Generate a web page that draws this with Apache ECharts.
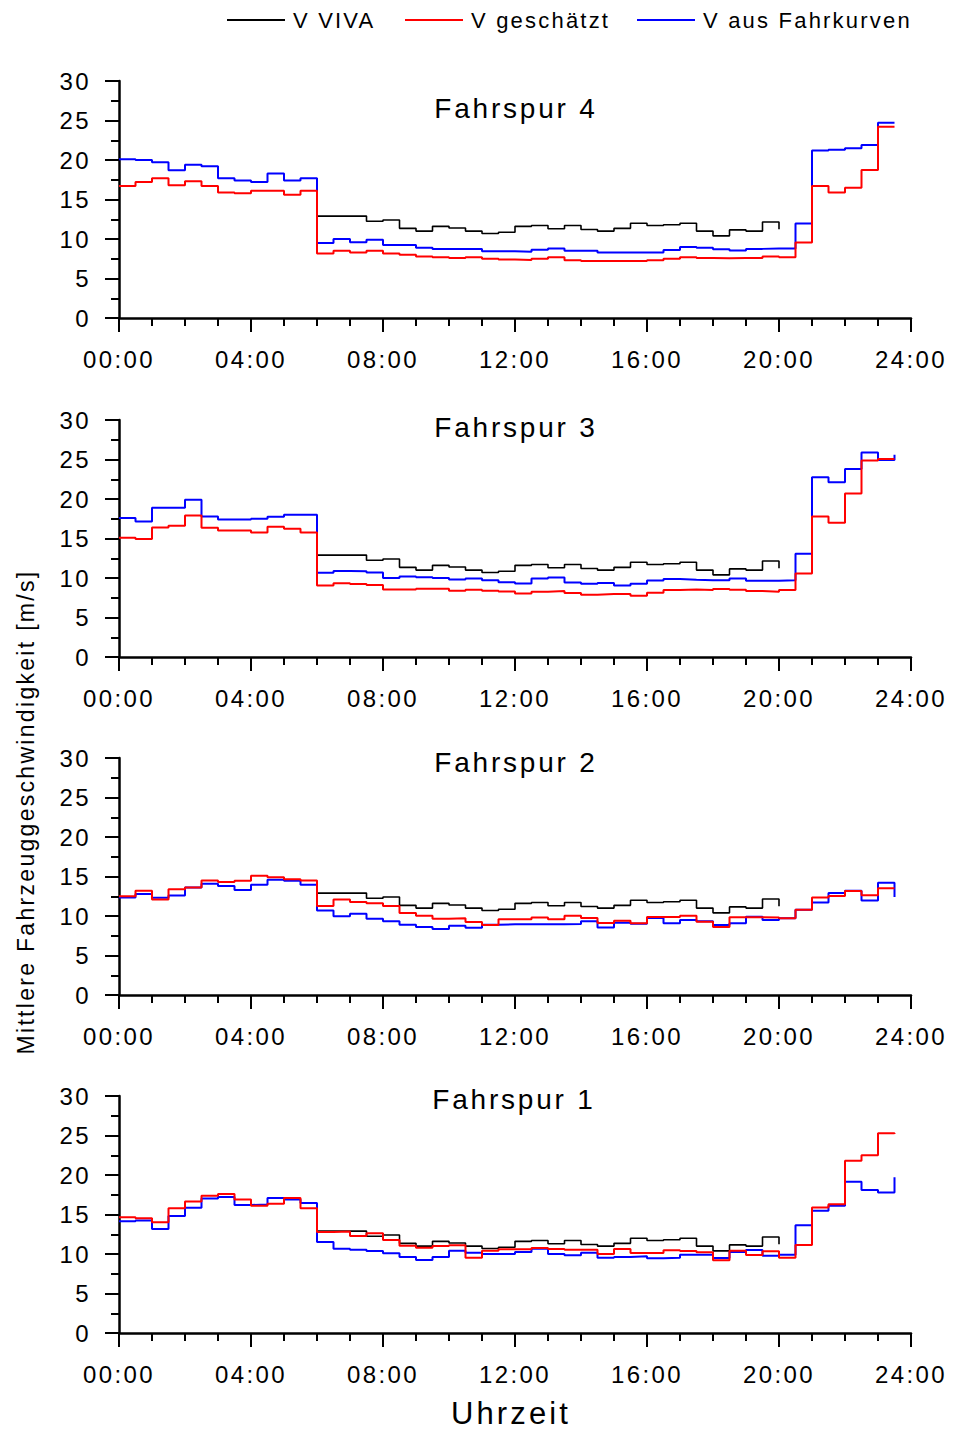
<!DOCTYPE html>
<html>
<head>
<meta charset="utf-8">
<script src="https://cdn.jsdelivr.net/npm/echarts@6/dist/echarts.min.js"></script>
<style>
html,body{margin:0;padding:0;background:#fff}
#chart{width:953px;height:1430px}
#chart text{letter-spacing:0.1em}
</style>
</head>
<body>
<div id="chart"></div>
<script>
// Uhrzeit in Stunden (Halbstundenwerte)
const hours = [0,0.5,1,1.5,2,2.5,3,3.5,4,4.5,5,5.5,6,6.5,7,7.5,8,8.5,9,9.5,10,10.5,11,11.5,
               12,12.5,13,13.5,14,14.5,15,15.5,16,16.5,17,17.5,18,18.5,19,19.5,20,20.5,21,21.5,22,22.5,23,23.5];
const laneNames = ['Fahrspur 4','Fahrspur 3','Fahrspur 2','Fahrspur 1'];
const seriesNames = ['V VIVA','V geschätzt','V aus Fahrkurven'];

// V VIVA (gleich für alle Fahrspuren, 06:00 - 20:00)
const vViva = [null,null,null,null,null,null,null,null,null,null,null,null,
  12.9,12.9,12.9,12.25,12.4,11.35,11.0,11.6,11.4,11.0,10.7,10.85,
  11.6,11.7,11.3,11.7,11.2,11.0,11.35,12.0,11.7,11.8,12.0,11.0,10.4,11.15,11.0,12.15,11.25,
  null,null,null,null,null,null,null];

// Fahrspur 4
const vGeschaetzt4 = [16.7,17.2,17.7,16.8,17.3,16.7,15.9,15.8,16.1,16.1,15.6,16.1,
  8.15,8.5,8.3,8.5,8.15,8.0,7.8,7.7,7.6,7.7,7.5,7.4,
  7.35,7.5,7.7,7.3,7.2,7.2,7.2,7.2,7.3,7.5,7.7,7.6,7.55,7.6,7.6,7.8,7.7,9.55,16.7,15.9,16.5,18.75,24.2,24.2];
const vFahrkurven4 = [20.1,20.0,19.7,18.7,19.4,19.2,17.7,17.4,17.2,18.3,17.4,17.7,
  9.5,10.0,9.6,9.9,9.25,9.25,8.9,8.75,8.75,8.75,8.45,8.45,
  8.4,8.65,8.8,8.5,8.5,8.3,8.3,8.3,8.3,8.6,9.0,8.9,8.7,8.55,8.75,8.8,8.8,11.95,21.2,21.3,21.5,21.9,24.7,24.7];

// Fahrspur 3
const vGeschaetzt3 = [15.1,14.95,16.4,16.6,17.9,16.35,16.0,16.0,15.75,16.5,16.25,15.75,
  9.05,9.35,9.25,9.1,8.55,8.55,8.65,8.65,8.4,8.5,8.4,8.3,
  8.05,8.26,8.34,8.09,7.88,7.96,7.96,7.75,8.13,8.47,8.55,8.47,8.6,8.51,8.34,8.26,8.47,10.58,17.78,16.98,20.7,24.86,25.07,25.07];
const vFahrkurven3 = [17.6,17.15,18.9,18.9,19.9,17.8,17.4,17.4,17.5,17.75,18.0,18.0,
  10.65,10.9,10.85,10.7,10.0,10.2,10.1,10.0,9.8,9.95,9.7,9.45,
  9.31,9.95,10.07,9.44,9.27,9.36,9.06,9.27,9.69,9.86,9.78,9.73,9.73,9.95,9.65,9.65,9.73,13.06,22.76,22.12,23.8,25.9,24.95,25.6];

// Fahrspur 2
const vGeschaetzt2 = [12.5,13.2,12.1,13.4,13.6,14.5,14.3,14.45,15.1,14.9,14.66,14.5,
  11.27,12.08,11.78,11.6,11.27,10.38,10.04,9.66,9.7,9.24,8.86,9.58,
  9.58,9.8,9.58,10.04,9.75,9.1,9.4,9.07,9.87,9.87,10.04,9.28,8.6,9.83,9.83,9.8,9.7,10.8,12.33,12.54,13.18,12.63,13.5,13.5];
const vFahrkurven2 = [12.33,12.8,12.3,12.6,13.6,14.07,13.8,13.3,13.94,14.6,14.45,13.94,
  10.7,9.96,10.3,9.66,9.32,8.9,8.6,8.35,8.77,8.5,8.9,8.94,
  8.94,8.94,8.94,8.98,9.32,8.56,9.15,9.03,9.75,9.07,9.5,9.32,8.86,9.07,9.9,9.5,9.7,10.8,11.7,12.9,13.2,11.95,14.2,12.4];

// Fahrspur 1
const vGeschaetzt1 = [14.66,14.53,14.03,15.8,16.65,17.37,17.58,16.9,16.1,16.36,17.1,15.8,
  12.8,12.84,12.29,12.63,11.78,11.06,10.8,11.0,11.1,9.53,10.42,10.6,
  10.6,10.76,10.64,10.55,10.55,10.0,10.64,10.13,10.13,10.47,10.38,10.21,9.2,10.42,9.87,10.34,9.53,11.14,15.9,16.3,21.8,22.5,25.3,25.2];
const vFahrkurven1 = [14.15,14.24,13.18,14.8,15.85,17.03,17.2,16.2,16.27,17.08,16.9,16.44,
  11.53,10.68,10.55,10.38,10.08,9.62,9.24,9.62,10.42,10.17,10.0,10.0,
  10.25,10.68,10.0,9.83,10.17,9.53,9.62,9.7,9.45,9.53,9.92,9.92,9.5,10.25,10.5,9.79,9.92,13.64,15.47,16.1,19.15,18.1,17.8,19.7];

const lanes = [
  {name: laneNames[0], est: vGeschaetzt4, curve: vFahrkurven4},
  {name: laneNames[1], est: vGeschaetzt3, curve: vFahrkurven3},
  {name: laneNames[2], est: vGeschaetzt2, curve: vFahrkurven2},
  {name: laneNames[3], est: vGeschaetzt1, curve: vFahrkurven1}
];

const FONT = 'Liberation Sans, Arial, Helvetica, sans-serif';
const gridTops = [81, 420, 758, 1096];
const titlePos = [[516,108],[516,427],[516,762],[514,1099]];

function pairs(vals) {
  const out = [];
  vals.forEach((v, i) => { if (v !== null) out.push([hours[i], v]); });
  return out;
}
function fmtHour(v) { return (v < 10 ? '0' : '') + v + ':00'; }

const grids = [], xAxes = [], yAxes = [], series = [], graphics = [];
lanes.forEach((lane, i) => {
  grids.push({left: 119, width: 792, top: gridTops[i], height: 237});
  xAxes.push({
    gridIndex: i, type: 'value', min: 0, max: 24, interval: 4,
    axisLine: {show: true, onZero: false, lineStyle: {color: '#000', width: 2.5}},
    axisTick: {show: true, length: 14, lineStyle: {color: '#000', width: 2}},
    minorTick: {show: true, splitNumber: 4, length: 8, lineStyle: {color: '#000', width: 2}},
    splitLine: {show: false}, minorSplitLine: {show: false},
    axisLabel: {formatter: fmtHour, fontSize: 24, color: '#000', fontFamily: FONT, margin: 29}
  });
  yAxes.push({
    gridIndex: i, type: 'value', min: 0, max: 30, interval: 5,
    axisLine: {show: true, onZero: false, lineStyle: {color: '#000', width: 2.5}},
    axisTick: {show: true, length: 14, lineStyle: {color: '#000', width: 2}},
    minorTick: {show: true, splitNumber: 2, length: 8, lineStyle: {color: '#000', width: 2}},
    splitLine: {show: false}, minorSplitLine: {show: false},
    axisLabel: {fontSize: 24, color: '#000', fontFamily: FONT, margin: 28}
  });
  series.push({
    name: seriesNames[0], type: 'line', step: 'end', xAxisIndex: i, yAxisIndex: i,
    symbol: 'none', color: '#000', lineStyle: {color: '#000', width: 1.6},
    data: pairs(vViva)
  });
  series.push({
    name: seriesNames[2], type: 'line', step: 'end', xAxisIndex: i, yAxisIndex: i,
    symbol: 'none', color: '#0000ff', lineStyle: {color: '#0000ff', width: 2},
    data: pairs(lane.curve)
  });
  series.push({
    name: seriesNames[1], type: 'line', step: 'end', xAxisIndex: i, yAxisIndex: i,
    symbol: 'none', color: '#ff0000', lineStyle: {color: '#ff0000', width: 2},
    data: pairs(lane.est)
  });
  graphics.push({
    type: 'text', x: titlePos[i][0], y: titlePos[i][1],
    style: {text: lane.name, fill: '#000', fontSize: 28, fontFamily: FONT,
            textAlign: 'center', align: 'center', textVerticalAlign: 'middle', verticalAlign: 'middle'}
  });
});

graphics.push({
  type: 'text', x: 26, y: 812, rotation: Math.PI / 2,
  style: {text: 'Mittlere Fahrzeuggeschwindigkeit [m/s]', fill: '#000', fontSize: 23, fontFamily: FONT,
          textAlign: 'center', align: 'center', textVerticalAlign: 'middle', verticalAlign: 'middle'}
});
graphics.push({
  type: 'text', x: 511, y: 1413,
  style: {text: 'Uhrzeit', fill: '#000', fontSize: 31, lineHeight: 30, fontFamily: FONT,
          textAlign: 'center', align: 'center', textVerticalAlign: 'middle', verticalAlign: 'middle'}
});

const legendBase = {
  top: 9, padding: 0, icon: 'rect', itemWidth: 58, itemHeight: 2, itemGap: 10, selectedMode: false,
  textStyle: {fontSize: 22, color: '#000', fontFamily: FONT, padding: [0, 0, 0, 3]}
};
const legends = [
  Object.assign({}, legendBase, {left: 227, data: [seriesNames[0]]}),
  Object.assign({}, legendBase, {left: 405, data: [seriesNames[1]]}),
  Object.assign({}, legendBase, {left: 637, data: [seriesNames[2]]})
];

const chart = echarts.init(document.getElementById('chart'), null, {renderer: 'svg'});
chart.setOption({
  animation: false,
  backgroundColor: '#fff',
  legend: legends,
  grid: grids,
  xAxis: xAxes,
  yAxis: yAxes,
  series: series,
  graphic: graphics
});
</script>
</body>
</html>
